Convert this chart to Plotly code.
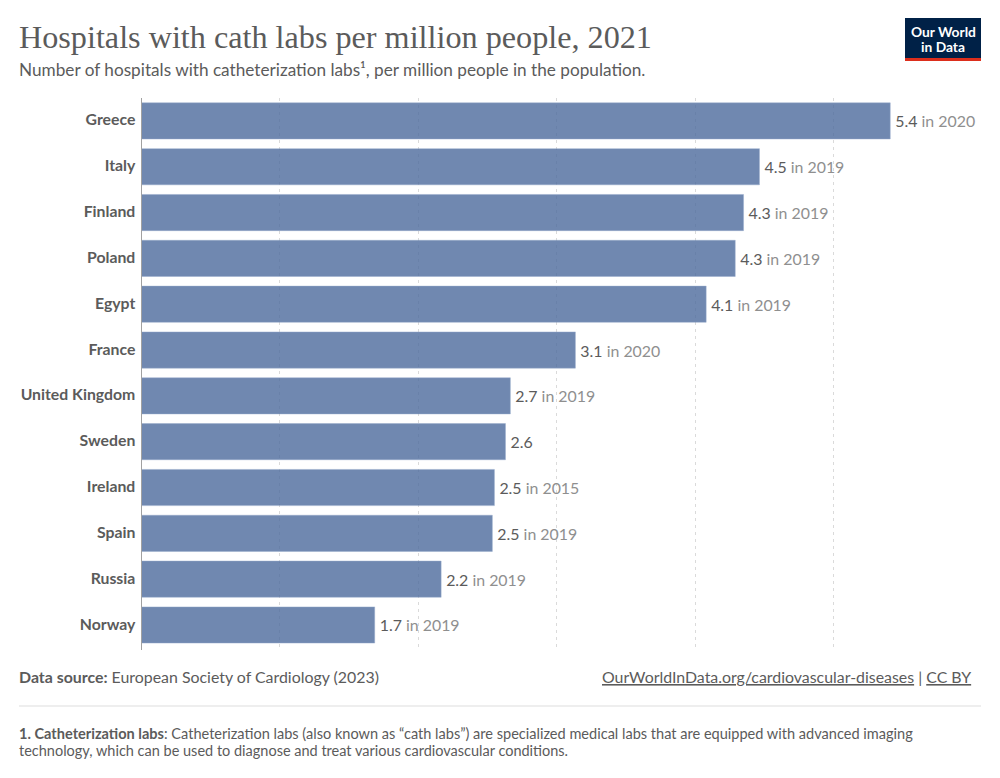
import plotly.graph_objects as go

countries = ["Greece", "Italy", "Finland", "Poland", "Egypt", "France", "United Kingdom",
             "Sweden", "Ireland", "Spain", "Russia", "Norway"]
values = [5.41, 4.465, 4.35, 4.29, 4.08, 3.135, 2.665, 2.63, 2.55, 2.535, 2.165, 1.685]
shown = ["5.4", "4.5", "4.3", "4.3", "4.1", "3.1", "2.7", "2.6", "2.5", "2.5", "2.2", "1.7"]
years = ["2020", "2019", "2019", "2019", "2019", "2020", "2019", "", "2015", "2019", "2019", "2019"]
gridticks = [0, 1, 2, 3, 4, 5]

W, H = 1000, 778
DARK = "#5b5b5b"
GREY = "#8f8f8f"
SANS = "Lato"


def px(x):
    return x / W


def py(y):
    return 1 - y / H


labels = [
    "\u2009" + s + (f' <span style="color:{GREY}">in {y}</span>' if y else "")
    for s, y in zip(shown, years)
]

fig = go.Figure(
    go.Bar(
        y=countries,
        x=values,
        orientation="h",
        width=0.79,
        marker=dict(color="rgba(76,106,156,0.8)", line=dict(width=0.5, color="rgba(150,170,205,0.9)")),
        text=labels,
        textposition="outside",
        textangle=0,
        cliponaxis=False,
        constraintext="none",
        outsidetextfont=dict(family=SANS, size=15.9, color=DARK),
        hoverinfo="skip",
    )
)


def note(x, y, text, size, color=DARK, family=SANS, xanchor="left"):
    fig.add_annotation(
        xref="paper", yref="paper", x=px(x), y=py(y), text=text, showarrow=False,
        xanchor=xanchor, yanchor="middle", align="left" if xanchor == "left" else xanchor,
        font=dict(family=family, size=size, color=color),
        borderpad=0, borderwidth=0,
    )


note(19, 37, "Hospitals with cath labs per million people, 2021", 32.2, family="Liberation Serif")
note(19, 69.3, "Number of hospitals with catheterization labs¹, per million people in the population.", 17.2)
note(19, 676.8, "<b>Data source:</b> European Society of Cardiology (2023)", 15.9)
note(971, 676.8,
     '<span style="text-decoration:underline">OurWorldInData.org/cardiovascular-diseases</span>'
     ' | <span style="text-decoration:underline">CC BY</span>', 15.9, xanchor="right")
note(19, 733, "<b>1. Catheterization labs</b>: Catheterization labs (also known as “cath labs”) are specialized medical labs that are equipped with advanced imaging", 14.55)
note(19, 750.5, "technology, which can be used to diagnose and treat various cardiovascular conditions.", 14.5)

# Logo
fig.add_shape(type="rect", xref="paper", yref="paper", x0=px(905), x1=px(981), y0=py(18), y1=py(61),
              fillcolor="#002147", line_width=0, layer="above")
fig.add_shape(type="rect", xref="paper", yref="paper", x0=px(905), x1=px(981), y0=py(58), y1=py(61),
              fillcolor="#dc2e1c", line_width=0, layer="above")
for logo_y, logo_text in [(31, "Our World"), (46.5, "in Data")]:
    fig.add_annotation(xref="paper", yref="paper", x=px(943), y=py(logo_y), showarrow=False,
                       text=f"<b>{logo_text}</b>", xanchor="center", yanchor="middle",
                       font=dict(family=SANS, size=13.8, color="white"), borderpad=0)

# Footer rule
fig.add_shape(type="line", xref="paper", yref="paper", x0=px(19), x1=px(981), y0=py(706), y1=py(706),
              line=dict(color="#dddddd", width=1))

fig.update_layout(
    width=W, height=H,
    margin=dict(l=0, r=0, t=0, b=0),
    paper_bgcolor="white", plot_bgcolor="white",
    showlegend=False,
    xaxis=dict(
        domain=[px(141.5), 1], range=[0, 858.5 / 138.4],
        tickvals=gridticks, showticklabels=False, ticks="",
        showgrid=True, gridcolor="#dadada", griddash="3px,4px", gridwidth=1,
        zeroline=False, showline=False,
    ),
    yaxis=dict(
        domain=[py(650), py(98)], range=[11.546, -0.5],
        categoryorder="array", categoryarray=countries,
        showgrid=False, zeroline=False, showline=True, linecolor="#a1a1a1", linewidth=1,
        ticks="", ticklabelstandoff=2, ticklabelshift=1,
        tickfont=dict(family=SANS, size=15.8, color=DARK, weight=700),
    ),
)

fig.write_html("out.html", post_script="document.body.style.margin='0';",
               config={"displayModeBar": False})
